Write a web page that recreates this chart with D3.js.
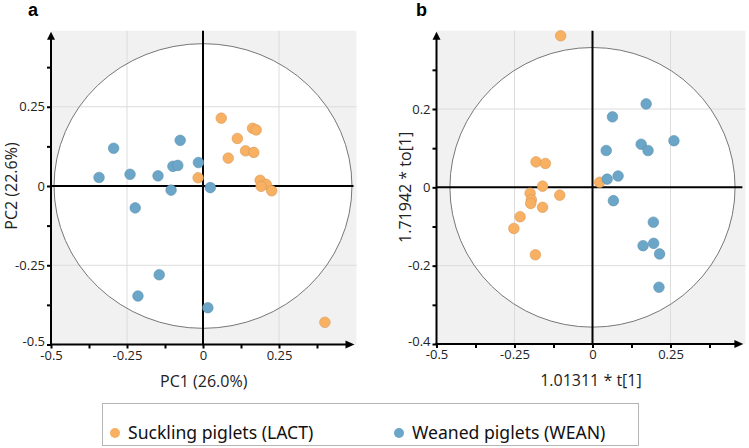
<!DOCTYPE html>
<html><head><meta charset="utf-8">
<script src="https://cdn.jsdelivr.net/npm/d3@7"></script>
<style>body{margin:0;background:#fff}svg{display:block}</style>
</head><body>
<svg id="c" width="749" height="448"></svg>
<script>
// ---- data ----
const groups = ["Suckling piglets (LACT)", "Weaned piglets (WEAN)"];
const groupColors = ["#f8b063", "#6ba6c8"];
// Panel a: PCA scores
const lactA_pc1 = [0.06, 0.113, 0.163, 0.175, 0.140, 0.167, 0.083, -0.016, 0.188, 0.208, 0.191, 0.226, 0.401];
const lactA_pc2 = [0.214, 0.150, 0.182, 0.177, 0.111, 0.106, 0.088, 0.026, 0.018, 0.005, -0.001, -0.015, -0.430];
const weanA_pc1 = [-0.294, -0.075, -0.015, -0.099, -0.083, -0.342, -0.240, -0.148, -0.105, 0.024, -0.223, -0.144, -0.214, 0.016];
const weanA_pc2 = [0.119, 0.144, 0.074, 0.062, 0.065, 0.027, 0.037, 0.032, -0.013, -0.005, -0.069, -0.280, -0.347, -0.384];
// Panel b: OPLS-DA scores
const lactB_t = [-0.102, -0.181, -0.151, -0.160, 0.023, -0.200, -0.105, -0.196, -0.198, -0.160, -0.232, -0.252, -0.183];
const lactB_to = [0.387, 0.065, 0.061, 0.003, 0.013, -0.015, -0.020, -0.032, -0.041, -0.051, -0.075, -0.105, -0.172];
const weanB_t = [0.172, 0.064, 0.261, 0.156, 0.178, 0.044, 0.082, 0.047, 0.067, 0.195, 0.162, 0.196, 0.215, 0.213];
const weanB_to = [0.213, 0.180, 0.119, 0.110, 0.094, 0.094, 0.029, 0.021, -0.034, -0.089, -0.149, -0.143, -0.170, -0.255];
// ticks
const aXTicks = [-0.5, -0.25, 0, 0.25], aXLabels = ["-0.5", "-0.25", "0", "0.25"];
const aYTicks = [-0.5, -0.25, 0, 0.25], aYLabels = ["-0.5", "-0.25", "0", "0.25"];
const aXMinor = [-0.375, -0.125, 0.125, 0.375], aYMinor = [-0.375, -0.125, 0.125, 0.375];
const bXTicks = [-0.5, -0.25, 0, 0.25], bXLabels = ["-0.5", "-0.25", "0", "0.25"];
const bYTicks = [-0.4, -0.2, 0, 0.2], bYLabels = ["-0.4", "-0.2", "0", "0.2"];
const bXMinor = [-0.375, -0.125, 0.125, 0.375], bYMinor = [-0.3, -0.1, 0.1, 0.3];

const svg = d3.select("#c");
const font = "'Open Sans', sans-serif";

function panel(cfg) {
  const x = d3.scaleLinear().domain(cfg.xDom).range(cfg.xRange);
  const y = d3.scaleLinear().domain(cfg.yDom).range(cfg.yRange);
  const g = svg.append("g");
  const x0 = x(cfg.xDom[0]), x1 = x(cfg.xMax), y0 = y(cfg.yDom[0]), y1 = y(cfg.yMax);
  g.append("rect").attr("x", x0).attr("y", y1).attr("width", x1 - x0).attr("height", y0 - y1).attr("fill", "#f1f1f1");
  g.append("ellipse").attr("cx", x(0)).attr("cy", y(0))
    .attr("rx", x(cfg.ell[0]) - x(0)).attr("ry", y(0) - y(cfg.ell[1])).attr("fill", "#fff");
  // grid
  cfg.xGrid.forEach(v => g.append("line").attr("x1", x(v)).attr("x2", x(v)).attr("y1", y1).attr("y2", y0).attr("stroke", "#dcdcdc").attr("stroke-width", 1));
  cfg.yGrid.forEach(v => g.append("line").attr("y1", y(v)).attr("y2", y(v)).attr("x1", x0).attr("x2", x1).attr("stroke", "#dcdcdc").attr("stroke-width", 1));
  g.append("ellipse").attr("cx", x(0)).attr("cy", y(0))
    .attr("rx", x(cfg.ell[0]) - x(0)).attr("ry", y(0) - y(cfg.ell[1])).attr("fill", "none").attr("stroke", "#777").attr("stroke-width", 1);
  // zero lines
  g.append("line").attr("x1", x(0)).attr("x2", x(0)).attr("y1", y1).attr("y2", y0).attr("stroke", "#000").attr("stroke-width", 2);
  g.append("line").attr("x1", x0).attr("x2", x1 - 3).attr("y1", y(0)).attr("y2", y(0)).attr("stroke", "#000").attr("stroke-width", 2);
  // axes ticks
  const ax = g.append("g").attr("transform", `translate(0,${y0})`)
    .call(d3.axisBottom(x).tickValues(cfg.xTicks).tickSize(4).tickPadding(2).tickFormat((d, i) => cfg.xLabels[i]));
  const axm = g.append("g").attr("transform", `translate(0,${y0})`)
    .call(d3.axisBottom(x).tickValues(cfg.xMinor).tickSize(4).tickFormat(""));
  const ay = g.append("g").attr("transform", `translate(${x0},0)`)
    .call(d3.axisLeft(y).tickValues(cfg.yTicks).tickSize(4).tickPadding(2).tickFormat((d, i) => cfg.yLabels[i]));
  const aym = g.append("g").attr("transform", `translate(${x0},0)`)
    .call(d3.axisLeft(y).tickValues(cfg.yMinor).tickSize(4).tickFormat(""));
  [ax, axm, ay, aym].forEach(a => {
    a.select(".domain").remove();
    a.selectAll("line").attr("stroke", "#000").attr("stroke-width", 2);
    a.selectAll("text").attr("font-family", font).attr("font-size", 13).attr("fill", "#222");
  });
  ay.selectAll("text").filter((d) => d === cfg.yDom[0]).attr("dy", "0.1em");
  // axis lines with arrows
  g.append("line").attr("x1", x0).attr("x2", x0).attr("y1", y0 + 1).attr("y2", y1 + 8).attr("stroke", "#000").attr("stroke-width", 2);
  g.append("path").attr("d", `M${x0 - 4},${y1 + 9} L${x0 + 4},${y1 + 9} L${x0},${y1 + 1} Z`).attr("fill", "#000");
  g.append("line").attr("x1", x0 - 1).attr("x2", x1 - 10).attr("y1", y0).attr("y2", y0).attr("stroke", "#000").attr("stroke-width", 2);
  g.append("path").attr("d", `M${x1 - 11},${y0 - 4} L${x1 - 11},${y0 + 4} L${x1 - 2},${y0} Z`).attr("fill", "#000");
  // points
  const sets = [[cfg.lx, cfg.ly, 0], [cfg.wx, cfg.wy, 1]];
  sets.forEach(([xs, ys, gi]) => {
    g.append("g").selectAll("circle").data(xs.map((v, i) => [v, ys[i]])).join("circle")
      .attr("cx", d => x(d[0])).attr("cy", d => y(d[1])).attr("r", 5.3)
      .attr("fill", groupColors[gi]).attr("stroke", d3.color(groupColors[gi]).darker(0.4)).attr("stroke-width", 0.6);
  });
  // titles
  g.append("text").attr("x", (x0 + x1) / 2).attr("y", y0 + 42).attr("text-anchor", "middle")
    .attr("font-family", font).attr("font-size", 16).attr("fill", "#222").text(cfg.xTitle);
  g.append("text").attr("transform", `translate(${cfg.yTitleX},${y(0)}) rotate(-90)`).attr("text-anchor", "middle")
    .attr("font-family", font).attr("font-size", 16).attr("fill", "#222").text(cfg.yTitle);
  g.append("text").attr("x", cfg.letterX).attr("y", 16).attr("font-family", "Arial, 'Liberation Sans', sans-serif")
    .attr("font-weight", "bold").attr("font-size", 18).attr("fill", "#000").text(cfg.letter);
}

panel({
  xDom: [-0.5, 0.25], xRange: [51, 279], yDom: [-0.5, 0.25], yRange: [344.5, 106.75],
  xMax: 0.505, yMax: 0.49, ell: [0.49, 0.449],
  xGrid: [-0.25, 0.25], yGrid: [-0.25, 0.25],
  xTicks: aXTicks, xLabels: aXLabels, yTicks: aYTicks, yLabels: aYLabels, xMinor: aXMinor, yMinor: aYMinor,
  lx: lactA_pc1, ly: lactA_pc2, wx: weanA_pc1, wy: weanA_pc2,
  xTitle: "PC1 (26.0%)", yTitle: "PC2 (22.6%)", yTitleX: 17, letter: "a", letterX: 28
});
panel({
  xDom: [-0.5, 0.25], xRange: [436.5, 670.5], yDom: [-0.4, 0.2], yRange: [344, 109],
  xMax: 0.49, yMax: 0.40, ell: [0.457, 0.357],
  xGrid: [-0.25, 0.25], yGrid: [-0.2, 0.2],
  xTicks: bXTicks, xLabels: bXLabels, yTicks: bYTicks, yLabels: bYLabels, xMinor: bXMinor, yMinor: bYMinor,
  lx: lactB_t, ly: lactB_to, wx: weanB_t, wy: weanB_to,
  xTitle: "1.01311 * t[1]", yTitle: "1.71942 * to[1]", yTitleX: 411, letter: "b", letterX: 416
});

// legend
const lg = svg.append("g");
lg.append("rect").attr("x", 102.5).attr("y", 403.5).attr("width", 536).attr("height", 42).attr("fill", "#fff").attr("stroke", "#b5b5b5").attr("stroke-width", 1);
const legX = [115, 399];
groups.forEach((name, i) => {
  lg.append("circle").attr("cx", legX[i]).attr("cy", 433).attr("r", 5).attr("fill", groupColors[i]);
  lg.append("text").attr("x", legX[i] + 13).attr("y", 438.5).attr("font-family", "'Noto Sans', sans-serif").attr("font-size", 17.6).attr("fill", "#111").text(name);
});
</script>
</body></html>
